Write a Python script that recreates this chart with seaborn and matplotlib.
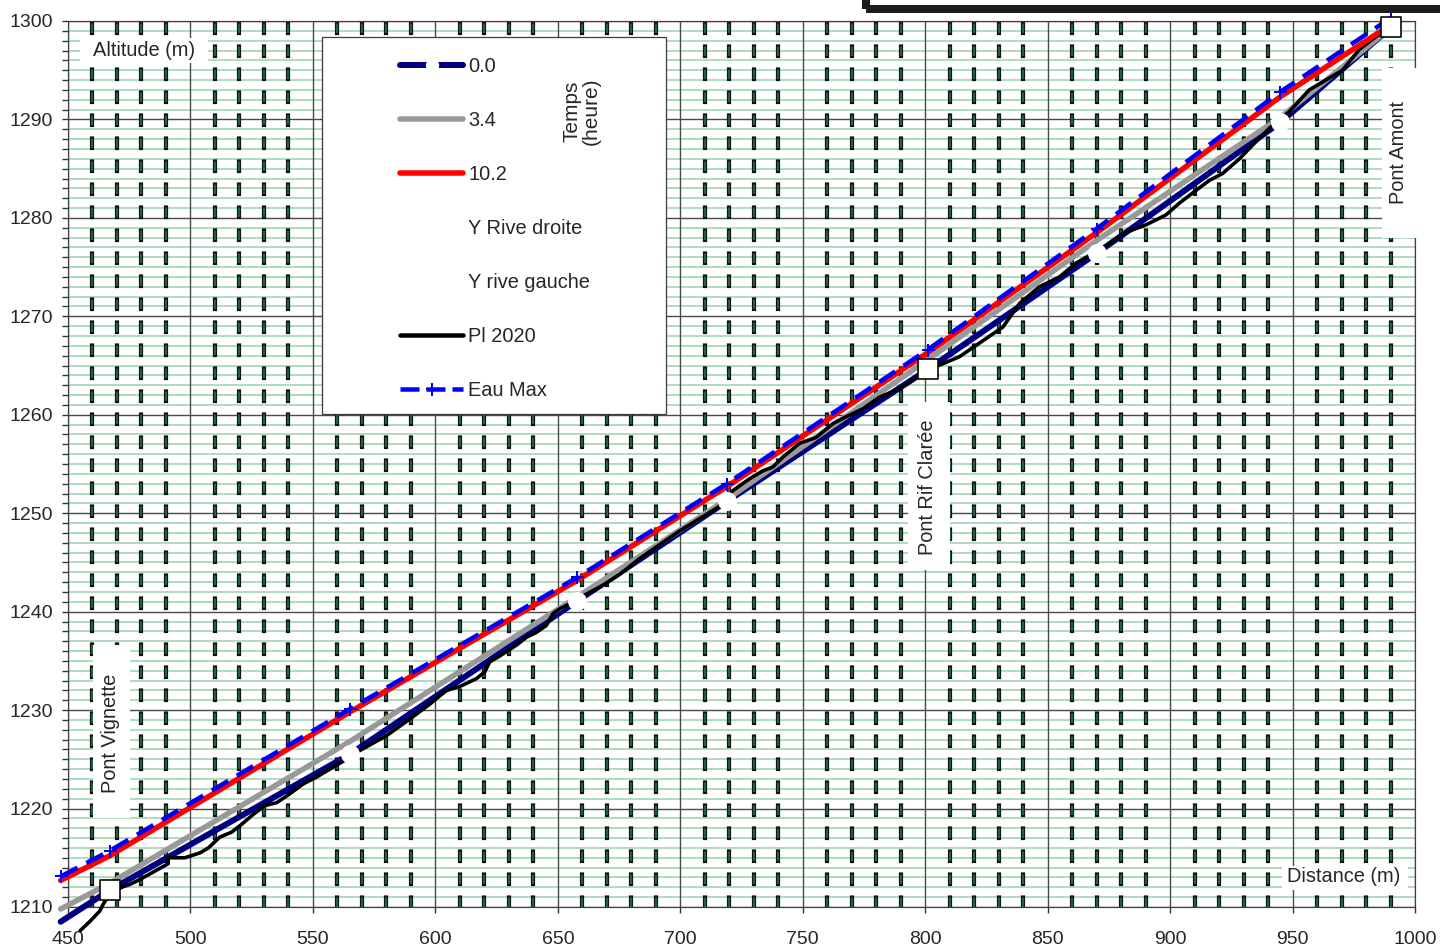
import matplotlib
matplotlib.use("Agg")
import matplotlib.pyplot as plt
import matplotlib.patheffects as pe
from matplotlib.lines import Line2D
from matplotlib.patches import Rectangle
from matplotlib.ticker import MultipleLocator
import numpy as np
import pandas as pd
import seaborn as sns

# ---------------------------------------------------------------------------
# Profil en long : sections de calcul (distance en m) et cotes (m)
# ---------------------------------------------------------------------------
sections = [447, 467, 565, 658, 719, 801, 870, 945, 990]
cote_t00 = [1208.5, 1211.7, 1225.5, 1241.1, 1251.2, 1264.6, 1276.4, 1289.7, 1299.3]
cote_t34 = [1209.8, 1212.4, 1226.8, 1241.5, 1251.4, 1265.6, 1277.7, 1290.2, 1299.3]
cote_t102 = [1212.7, 1215.2, 1229.8, 1243.2, 1252.7, 1266.3, 1278.5, 1292.3, 1299.6]
eau_max = [1213.1, 1215.7, 1230.1, 1243.5, 1253.0, 1266.6, 1278.9, 1292.8, 1300.3]

# Levé du fond (Pl 2020)
pl2020_x = [455, 459.2, 463, 464.4, 467, 471.9, 475.3, 479.4, 490.9, 490.9,
            497.7, 503.9, 507.3, 512, 516.8, 520.9, 525.6, 530.4, 535.2, 540.6,
            546.0, 551.5, 556.9, 563.0, 569.2, 580, 589.6, 597.7, 604.5, 610,
            616.8, 620.2, 622.2, 626.3, 633.1, 637.2, 641.3, 645.3, 648, 650.8,
            654.9, 660.3, 668.5, 675.3, 683.4, 699.7, 715.4, 721.5, 728.3, 733.7,
            737.8, 741.9, 748.7, 755.5, 762.3, 767.7, 774.5, 781.4, 788.2, 794.9,
            801, 804.5, 814, 831.7, 838.5, 846.6, 854.8, 861.6, 865.7, 872.5,
            880.7, 890.2, 898.3, 903.8, 910.6, 916, 921.4, 928.3, 933.7, 940.5,
            948.7, 956.8, 963.6, 970.4, 977.2, 984, 990]
pl2020_y = [1207.6, 1208.6, 1209.6, 1210.3, 1211.3, 1212.0, 1212.3, 1212.8, 1214.4, 1215.0,
            1215.0, 1215.5, 1216.0, 1217.1, 1217.6, 1218.4, 1219.4, 1220.3, 1220.6, 1221.5,
            1222.5, 1223.2, 1224.0, 1224.9, 1225.9, 1227.4, 1229.1, 1230.6, 1232.0, 1232.4,
            1233.2, 1233.9, 1234.9, 1235.5, 1236.6, 1237.4, 1237.9, 1238.6, 1239.8, 1240.3,
            1240.8, 1241.6, 1242.7, 1243.8, 1245.4, 1248.2, 1250.6, 1252.3, 1253.5, 1254.3,
            1254.7, 1255.7, 1257.1, 1257.7, 1259.1, 1259.8, 1260.6, 1261.8, 1262.5, 1263.5,
            1264.7, 1264.9, 1265.9, 1268.9, 1271.3, 1273.0, 1274.0, 1275.4, 1276.0, 1276.9,
            1278.4, 1279.3, 1280.3, 1281.5, 1282.8, 1283.8, 1284.5, 1286.0, 1287.4, 1289.1,
            1290.8, 1293.0, 1294.0, 1295.0, 1297.1, 1298.4, 1299.3]

# Ouvrages
ponts_x = [467, 801, 990]
ponts_y = [1211.7, 1264.7, 1299.4]
ponts_noms = ["Pont Vignette", "Pont Rif Clarée", "Pont Amont"]

legend_labels = ["0.0", "3.4", "10.2", "Y Rive droite", "Y rive gauche", "Pl 2020", "Eau Max"]
x_ticks = list(range(450, 1001, 50))
y_ticks = list(range(1210, 1301, 10))

# ---------------------------------------------------------------------------
sns.set_theme(style="white")
plt.rcParams["font.family"] = ["Liberation Sans", "DejaVu Sans"]
plt.rcParams["lines.scale_dashes"] = False
FS = 14.4
PX = 0.72  # points par pixel à 100 dpi

W, H = 1440, 948
fig = plt.figure(figsize=(W / 100, H / 100), dpi=100)
L, R, T, B = 68, 1415, 21, 907
ax = fig.add_axes([L / W, 1 - B / H, (R - L) / W, (B - T) / H])
ax.set_facecolor("white")


def fx(px):
    return (px - L) / (R - L)


def fy(py):
    return (B - py) / (B - T)


ax.set_xlim(450, 1000)
ax.set_ylim(1210, 1300)
ax.xaxis.set_major_locator(MultipleLocator(50))
ax.xaxis.set_minor_locator(MultipleLocator(10))
ax.yaxis.set_major_locator(MultipleLocator(10))
ax.yaxis.set_minor_locator(MultipleLocator(1))
ax.set_xticks(x_ticks)
ax.set_yticks(y_ticks)
ax.set_axisbelow(True)

# quadrillage
ax.grid(which="major", axis="both", color="#4a4a4a", linewidth=1.0 * PX * 1.4)
ax.grid(which="minor", axis="y", color="#9fd3b3", linewidth=1.6 * PX)
ax.grid(which="minor", axis="x", color="#1f6040", linewidth=2.2 * PX,
        linestyle=(0, (9.5 * PX, 13.5 * PX)), dash_capstyle="butt",
        path_effects=[pe.Stroke(linewidth=4.2 * PX, foreground="#101010",
                                capstyle="projecting"), pe.Normal()])
ax.yaxis.set_zorder(0.4)

for s in ax.spines.values():
    s.set_color("#404040")
    s.set_linewidth(1.2 * PX)
    s.set_visible(True)

ax.tick_params(axis="y", which="both", direction="out", length=6 * PX, width=1.0,
               color="#333333", left=True, labelsize=14, pad=9 * PX)
ax.tick_params(axis="x", which="major", direction="out", length=6 * PX, width=1.0,
               color="#333333", bottom=True, labelsize=14, pad=18 * PX)
ax.tick_params(axis="x", which="minor", length=0, bottom=False)
ax.set_xticklabels([str(v) for v in x_ticks])
ax.set_yticklabels([str(v) for v in y_ticks])
ax.set_xlabel("")
ax.set_ylabel("")

# ---------------------------------------------------------------------------
# séries
df = pd.DataFrame({"distance": sections, "t00": cote_t00, "t34": cote_t34,
                   "t102": cote_t102, "eau_max": eau_max})
fond = pd.DataFrame({"distance": pl2020_x, "cote": pl2020_y})
ponts = pd.DataFrame({"distance": ponts_x, "cote": ponts_y})

common = dict(ax=ax, sort=False, estimator=None, legend=False, clip_on=False)
sns.lineplot(data=df, x="distance", y="t00", color="#000080", linewidth=6 * PX,
             zorder=3.0, **common)
sns.lineplot(data=df, x="distance", y="t34", color="#999999", linewidth=5.5 * PX,
             zorder=3.2, **common)
sns.lineplot(data=fond, x="distance", y="cote", color="black", linewidth=3.6 * PX,
             zorder=3.4, **common)
# repères de la série 0.0
sns.scatterplot(data=df.iloc[1:], x="distance", y="t00", marker="o", s=(19 * PX) ** 2,
                color="white", edgecolor="white", linewidth=0, zorder=3.6,
                ax=ax, legend=False, clip_on=False)
sns.lineplot(data=df, x="distance", y="t102", color="#ff0000", linewidth=5.5 * PX,
             zorder=3.8, **common)
sns.lineplot(data=df, x="distance", y="eau_max", color="#0000ff", linewidth=4.5 * PX,
             linestyle=(0, (19 * PX, 10 * PX)), marker="+", markersize=13 * PX,
             markeredgewidth=2 * PX, markeredgecolor="#0000ff", zorder=4.0, **common)
sns.scatterplot(data=ponts, x="distance", y="cote", marker="s", s=(20 * PX) ** 2,
                color="white", edgecolor="black", linewidth=1.6 * PX, zorder=5,
                ax=ax, legend=False, clip_on=False)
ax.set_xlabel("")
ax.set_ylabel("")


# ---------------------------------------------------------------------------
# étiquettes sur fond blanc
def boite(x0, y0, x1, y1):
    ax.add_patch(Rectangle((fx(x0), fy(y1)), fx(x1) - fx(x0), fy(y0) - fy(y1),
                           transform=ax.transAxes, facecolor="white",
                           edgecolor="none", zorder=2.6, clip_on=False))


boite(80, 38, 208, 63)
ax.text(fx(144), fy(50), "Altitude (m)", transform=ax.transAxes, fontsize=FS,
        ha="center", va="center", zorder=7)
boite(1282, 866, 1408, 890)
ax.text(fx(1344), fy(877), "Distance (m)", transform=ax.transAxes, fontsize=FS,
        ha="center", va="center", zorder=7)

label_pos = [(111, 733, (93, 645, 130, 818)),
             (928, 487, (908, 402, 950, 570)),
             (1398, 152, (1382, 68, 1417, 238))]
for nom, (cx, cy, bx) in zip(ponts_noms, label_pos):
    boite(*bx)
    ax.text(fx(cx), fy(cy), nom, transform=ax.transAxes, fontsize=FS, rotation=90,
            ha="center", va="center", zorder=7)

# ---------------------------------------------------------------------------
# légende
ax.add_patch(Rectangle((fx(322), fy(414)), fx(666) - fx(322), fy(37) - fy(414),
                       transform=ax.transAxes, facecolor="white", edgecolor="#404040",
                       linewidth=1.3 * PX, zorder=8))
handles = [
    Line2D([], [], color="#000080", lw=6 * PX, marker="o", ms=12 * PX,
           mfc="white", mec="white"),
    Line2D([], [], color="#999999", lw=5.5 * PX),
    Line2D([], [], color="#ff0000", lw=5.5 * PX),
    Line2D([], [], color="white", lw=3 * PX),
    Line2D([], [], color="white", lw=3 * PX),
    Line2D([], [], color="black", lw=4.5 * PX),
    Line2D([], [], color="#0000ff", lw=4.5 * PX, linestyle=(0, (19 * PX, 7 * PX)),
           marker="+", ms=13 * PX, mew=2 * PX, mec="#0000ff"),
]
leg = ax.legend(handles, legend_labels, loc="upper left",
                bbox_to_anchor=(400 / W, 1 - 57 / H), bbox_transform=fig.transFigure,
                frameon=False, fontsize=FS, handlelength=63 / 20.0,
                handletextpad=5 / 20.0, labelspacing=1.75, borderpad=0,
                borderaxespad=0)
leg.set_zorder(9)
ax.text(fx(582), fy(111), "Temps\n(heure)", transform=ax.transAxes, fontsize=15,
        rotation=90, ha="center", va="center", multialignment="center",
        linespacing=1.0, zorder=10)

# cadre partiel en haut à droite
fig.add_artist(Rectangle((866 / W, 1 - 9 / H), 1, 1, transform=fig.transFigure,
                         fill=False, edgecolor="#1c1c1c", linewidth=8 * PX))

fig.savefig("out.png", dpi=100, facecolor="white")
